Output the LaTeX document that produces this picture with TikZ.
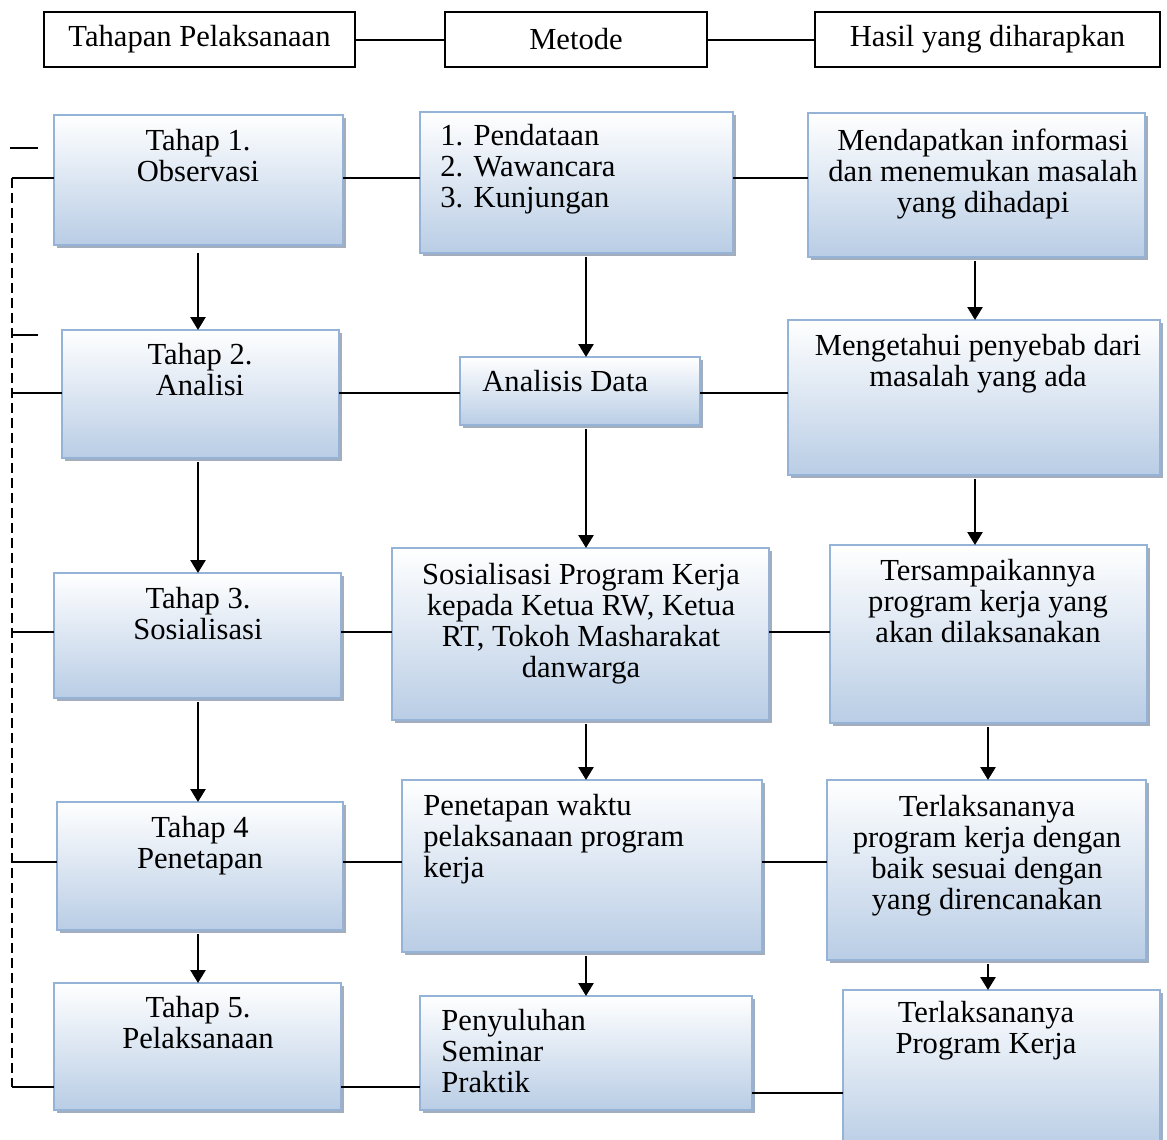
\documentclass[tikz,border=0pt]{standalone}
\usepackage{fontspec}
\setmainfont{Liberation Serif}
\usetikzlibrary{shadows,arrows.meta}
\definecolor{boxbot}{RGB}{185,205,229}
\definecolor{boxline}{RGB}{149,179,215}
\definecolor{shad}{RGB}{125,138,158}
\newcommand\myfont{\fontsize{15.3}{15.5}\selectfont}
\tikzset{
  bluebox/.style={draw=boxline, line width=0.8pt, top color=white, bottom color=boxbot,
    inner sep=0pt, outer sep=0pt, anchor=north west,
    drop shadow={shadow xshift=1.6pt, shadow yshift=-1.6pt, fill=shad, opacity=0.7}},
  headbox/.style={draw=black, line width=0.8pt, fill=white, inner sep=0pt, outer sep=0pt,
    anchor=north west, font=\myfont},
  ctxt/.style={font=\myfont, inner sep=0pt, anchor=north, align=center},
  ltxt/.style={font=\myfont, inner sep=0pt, anchor=north west, align=left},
  conn/.style={line width=1pt},
  arr/.style={line width=1.3pt, -{Triangle[length=6.5pt,width=7.5pt]}, shorten <=2pt}
}
\newcommand\bbox[5]{\node[bluebox, minimum width={(#4-#2)*0.5pt}, minimum height={(#5-#3)*0.5pt}] (#1) at (#2,#3) {};}
\begin{document}
\begin{tikzpicture}[x=0.5pt,y=-0.5pt]
\useasboundingbox (0,0) rectangle (1167,1140);
\clip (0,0) rectangle (1167,1140);
% header
\node[headbox, minimum width={311*0.5pt}, minimum height={55*0.5pt}] (hd1) at (44,12) {Tahapan Pelaksanaan};
\node[headbox, minimum width={262*0.5pt}, minimum height={55*0.5pt}] (hd2) at (445,12) {Metode};
\node[headbox, minimum width={345*0.5pt}, minimum height={55*0.5pt}] (hd3) at (815,12) {Hasil yang diharapkan};
\draw[conn] (hd1) -- (hd2);
\draw[conn] (hd2) -- (hd3);
% boxes
\bbox{T1}{54}{115}{343}{245}
\bbox{T2}{62}{330}{339}{458}
\bbox{T3}{54}{573}{341}{698}
\bbox{T4}{57}{802}{343}{930}
\bbox{T5}{54}{983}{341}{1110}
\bbox{M1}{420}{112}{733}{253}
\bbox{M2}{460}{357}{700}{425}
\bbox{M3}{392}{548}{769}{720}
\bbox{M4}{402}{780}{762}{952}
\bbox{M5}{420}{996}{752}{1110}
\bbox{H1}{808}{113}{1145}{257}
\bbox{H2}{788}{320}{1160}{475}
\bbox{H3}{830}{545}{1147}{723}
\bbox{H4}{827}{780}{1146}{960}
\bbox{H5}{843}{990}{1160}{1150}
% texts
\node[ctxt] (tT1) at (198,129) {Tahap 1.\\Observasi};
\node[ctxt] (tT2) at (200,343) {Tahap 2.\\Analisi};
\node[ctxt] (tT3) at (198,587) {Tahap 3.\\Sosialisasi};
\node[ctxt] (tT4) at (200,816) {Tahap 4\\Penetapan};
\node[ctxt] (tT5) at (198,996) {Tahap 5.\\Pelaksanaan};
\node[ltxt] (tM1) at (440,124) {1. Pendataan\\2. Wawancara\\3. Kunjungan};
\node[ltxt] (tM2) at (482,370) {Analisis Data};
\node[ctxt] (tM3) at (581,563) {Sosialisasi Program Kerja\\kepada Ketua RW, Ketua\\RT, Tokoh Masharakat\\danwarga};
\node[ltxt] (tM4) at (423,794) {Penetapan waktu\\pelaksanaan program\\kerja};
\node[ltxt] (tM5) at (441,1009) {Penyuluhan\\Seminar\\Praktik};
\node[ctxt] (tH1) at (983,129) {Mendapatkan informasi\\dan menemukan masalah\\yang dihadapi};
\node[ctxt] (tH2) at (978,334) {Mengetahui penyebab dari\\masalah yang ada};
\node[ctxt] (tH3) at (988,559) {Tersampaikannya\\program kerja yang\\akan dilaksanakan};
\node[ctxt] (tH4) at (987,795) {Terlaksananya\\program kerja dengan\\baik sesuai dengan\\yang direncanakan};
\node[ctxt] (tH5) at (986,1001) {Terlaksananya\\Program Kerja};
% row coordinates
\coordinate (r1) at (0,178);
\coordinate (r2) at (0,393);
\coordinate (r3) at (0,632);
\coordinate (r4) at (0,862);
\coordinate (r5) at (0,1087);
\coordinate (r5b) at (0,1093);
\draw[conn] (T1.east|-r1) -- (M1.west|-r1);
\draw[conn] (M1.east|-r1) -- (H1.west|-r1);
\draw[conn] (T2.east|-r2) -- (M2.west|-r2);
\draw[conn] (M2.east|-r2) -- (H2.west|-r2);
\draw[conn] (T3.east|-r3) -- (M3.west|-r3);
\draw[conn] (M3.east|-r3) -- (H3.west|-r3);
\draw[conn] (T4.east|-r4) -- (M4.west|-r4);
\draw[conn] (M4.east|-r4) -- (H4.west|-r4);
\draw[conn] (T5.east|-r5) -- (M5.west|-r5);
\draw[conn] (M5.east|-r5b) -- (H5.west|-r5b);
% left feedback line
\coordinate (L1) at (12,178);
\coordinate (L2) at (12,393);
\coordinate (L3) at (12,632);
\coordinate (L4) at (12,862);
\coordinate (L5) at (12,1087);
\coordinate (sa1) at (10,148);
\coordinate (sa2) at (38,148);
\coordinate (sb1) at (12,335);
\coordinate (sb2) at (38,335);
\draw[conn, dash pattern=on 5pt off 2.5pt] (L1) -- (L5);
\draw[conn] (L1) -- (T1.west|-L1);
\draw[conn] (L2) -- (T2.west|-L2);
\draw[conn] (L3) -- (T3.west|-L3);
\draw[conn] (L4) -- (T4.west|-L4);
\draw[conn] (L5) -- (T5.west|-L5);
\draw[conn] (sa1) -- (sa2);
\draw[conn] (sb1) -- (sb2);
% arrow columns
\coordinate (cx1) at (198,0);
\coordinate (cx2) at (586,0);
\coordinate (cx3) at (975,0);
\coordinate (cx4) at (988,0);
% arrows
\draw[arr, shorten <=4pt] (T1.south-|cx1) -- (T2.north-|cx1);
\draw[arr] (T2.south-|cx1) -- (T3.north-|cx1);
\draw[arr] (T3.south-|cx1) -- (T4.north-|cx1);
\draw[arr] (T4.south-|cx1) -- (T5.north-|cx1);
\draw[arr] (M1.south-|cx2) -- (M2.north-|cx2);
\draw[arr] (M2.south-|cx2) -- (M3.north-|cx2);
\draw[arr] (M3.south-|cx2) -- (M4.north-|cx2);
\draw[arr] (M4.south-|cx2) -- (M5.north-|cx2);
\draw[arr] (H1.south-|cx3) -- (H2.north-|cx3);
\draw[arr] (H2.south-|cx3) -- (H3.north-|cx3);
\draw[arr] (H3.south-|cx4) -- (H4.north-|cx4);
\draw[arr] (H4.south-|cx4) -- (H5.north-|cx4);
\end{tikzpicture}
\end{document}
